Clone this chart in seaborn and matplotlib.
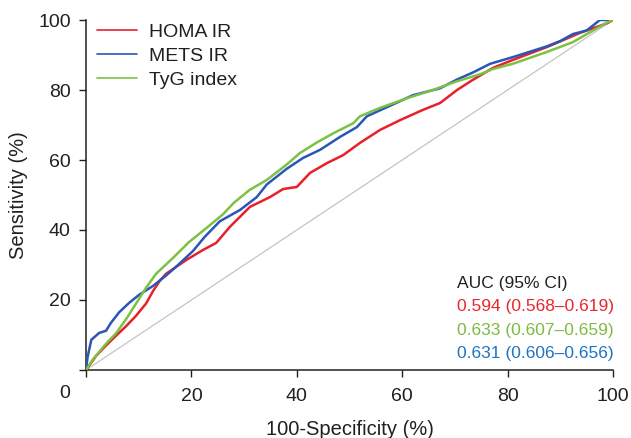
import pandas as pd
import matplotlib
matplotlib.use('Agg')
import matplotlib.pyplot as plt
import seaborn as sns

# ROC points (100-specificity, sensitivity), in %
homa_x = [0, 1.9, 3.8, 5.7, 7.6, 9.5, 11.4, 12.7, 14, 15.2, 19, 22.2, 24.7, 27.3, 31.1, 34.9, 37.4, 40, 42.5,
          45.7, 48.8, 52, 55.8, 59.6, 63.9, 67.2, 70.4, 73.4, 77.2, 81, 87.5, 93.7, 98.9, 100]
homa_y = [0, 4, 7, 9.8, 12.5, 15.5, 19, 22.5, 25.5, 27.5, 31.4, 34.3, 36.3, 40.9, 46.6, 49.4, 51.7, 52.3, 56.3,
          59.1, 61.4, 64.9, 68.6, 71.4, 74.3, 76.3, 80, 82.9, 86.3, 88.6, 92.3, 96.3, 99.1, 100]

mets_x = [0, 0.3, 1, 2.5, 3.8, 4.7, 6.3, 8.2, 10.1, 12.7, 15.2, 17.1, 20.3, 22.5, 25.4, 29.2, 32.4, 34.3,
          38.1, 41.2, 44.4, 48.2, 51.4, 53.3, 57.7, 62, 67.2, 70.4, 73.4, 76.7, 81, 87.5, 90, 92.4, 95, 97.5, 100]
mets_y = [0, 3.7, 8.6, 10.6, 11.2, 13.4, 16.5, 19.2, 21.5, 24, 27, 29.5, 34, 38, 42.5, 45.7, 49.4, 53,
          57.5, 60.6, 62.9, 66.6, 69.4, 72.5, 75.5, 78.5, 80.5, 83, 85, 87.5, 89.4, 92.5, 94, 96, 97, 100, 100]

tyg_x = [0, 1.3, 3.8, 5.7, 7.6, 9.5, 11.4, 13.3, 16.5, 19.5, 22.8, 26, 28, 31, 34.3, 38, 40.6, 43.8, 47,
         50.7, 52, 55.8, 61, 65.8, 70.4, 74.8, 77.2, 81, 87.5, 92.4, 96.2, 99, 100]
tyg_y = [0, 3, 7.5, 10.5, 14.5, 19, 23.5, 27.5, 32, 36.5, 40.5, 44.5, 47.7, 51.4, 54.3, 58.6, 62, 65, 67.7,
         70.5, 72.5, 74.9, 77.7, 80, 82.5, 84.5, 86, 87.5, 90.9, 93.7, 97, 99.4, 100]

labels = ['HOMA IR', 'METS IR', 'TyG index']
auc_text = ['0.594 (0.568\u20130.619)', '0.633 (0.607\u20130.659)', '0.631 (0.606\u20130.656)']
ticks = [0, 20, 40, 60, 80, 100]

line_colors = ['#e8202a', '#2a55b9', '#7cc242']
txt_colors = ['#e8262d', '#7fba42', '#1f74c0']
dark = '#231f20'

rows = []
for lab, xs, ys in zip(labels, [homa_x, mets_x, tyg_x], [homa_y, mets_y, tyg_y]):
    for i, (a, b) in enumerate(zip(xs, ys)):
        rows.append({'fpr': a, 'tpr': b, 'model': lab, 'order': i})
df = pd.DataFrame(rows)

sns.set_style('ticks')
plt.rcParams['font.family'] = ['Liberation Sans', 'DejaVu Sans']

fig = plt.figure(figsize=(6.31, 4.38), dpi=100)
ax = fig.add_axes([0.1363, 0.1553, 0.8352, 0.7990])

# reference diagonal
ax.plot([0, 100], [0, 100], color='#c4c4c4', lw=0.9, zorder=1)

sns.lineplot(data=df, x='fpr', y='tpr', hue='model', palette=line_colors, sort=False,
             estimator=None, units='model', lw=1.8, ax=ax, zorder=3)

ax.set_xlim(0, 100)
ax.set_ylim(0, 100)
ax.set_xticks(ticks)
ax.set_yticks(ticks)
ax.set_xticklabels([''] + [str(t) for t in ticks[1:]])
ax.set_yticklabels([''] + [str(t) for t in ticks[1:]])
ax.tick_params(axis='both', length=5, width=1, colors=dark, labelsize=14, pad=6)
ax.tick_params(axis='x', pad=8)
ax.annotate('0', xy=(0, 0), xycoords='data', xytext=(-16, -24), textcoords='offset pixels',
            ha='right', va='center', fontsize=14, color=dark)
sns.despine(ax=ax)
for s in ['left', 'bottom']:
    ax.spines[s].set_linewidth(1.1)
    ax.spines[s].set_color(dark)

ax.set_xlabel('100-Specificity (%)', fontsize=14.5, color=dark, labelpad=11)
ax.set_ylabel('Sensitivity (%)', fontsize=14.5, color=dark, labelpad=7)

leg = ax.legend(loc='upper left', bbox_to_anchor=(0.02, 0.99), frameon=False, fontsize=14,
                handlelength=2.1, handletextpad=0.6, labelspacing=0.32, borderpad=0, borderaxespad=0)
for h in leg.get_lines():
    h.set_linewidth(1.2)
for t in leg.get_texts():
    t.set_color(dark)

ax.text(0.704, 0.247, 'AUC (95% CI)', transform=ax.transAxes, fontsize=12.5, color=dark, va='center')
for k, (s, c) in enumerate(zip(auc_text, txt_colors)):
    ax.text(0.704, 0.18 - k * 0.067, s, transform=ax.transAxes, fontsize=12.5, color=c, va='center')

plt.savefig('out.png', dpi=100)
